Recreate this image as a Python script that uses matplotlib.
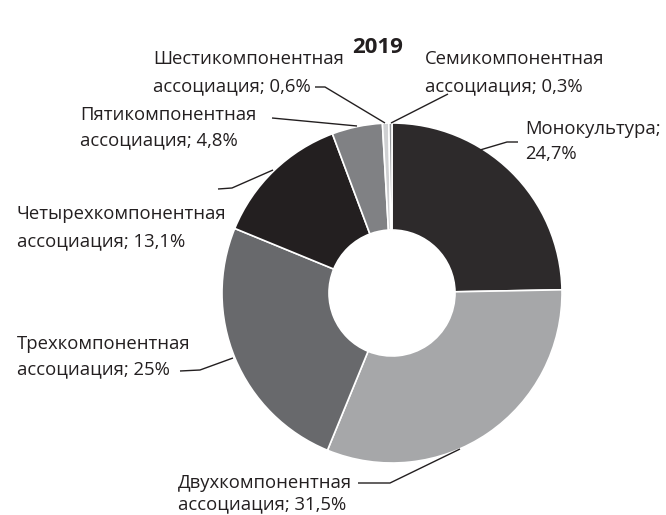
import matplotlib
matplotlib.use("Agg")
import matplotlib.pyplot as plt

# Structure of crop associations, 2019 (% of area)
categories = [
    "Монокультура",
    "Двухкомпонентная ассоциация",
    "Трехкомпонентная ассоциация",
    "Четырехкомпонентная ассоциация",
    "Пятикомпонентная ассоциация",
    "Шестикомпонентная ассоциация",
    "Семикомпонентная ассоциация",
]
values = [24.7, 31.5, 25.0, 13.1, 4.8, 0.6, 0.3]
value_labels = ["24,7%", "31,5%", "25%", "13,1%", "4,8%", "0,6%", "0,3%"]
title = "2019"

colors = ["#2d2a2b", "#a6a7a9", "#68696c", "#231f20", "#808184", "#cfd0d2", "#939598"]
text_color = "#231f20"

W, H = 666, 515
plt.rcParams["font.family"] = ["Open Sans", "DejaVu Sans"]

fig = plt.figure(figsize=(W / 100, H / 100), dpi=100)
ax = fig.add_axes([0, 0, 1, 1])


def Y(py):
    # pixel row (from top) -> axis coordinate (from bottom)
    return H - py


cx, cy, R, r_in = 392, 293, 170, 63
ax.pie(values, colors=colors, startangle=90, counterclock=False,
       center=(cx, Y(cy)), radius=R, frame=True,
       wedgeprops=dict(width=R - r_in, edgecolor="white", linewidth=1.2))

ax.set_xlim(0, W)
ax.set_ylim(0, H)
ax.set_aspect("equal")
ax.set_axis_off()

ax.text(378, Y(53), title, ha="center", va="baseline", fontsize=16,
        fontweight="bold", color=text_color)

# label text: first line, second line, left x, first baseline, second baseline
label_lines = [
    ("Монокультура;", value_labels[0], 525, 134, 159),
    ("Двухкомпонентная", "ассоциация; " + value_labels[1], 178, 488, 509),
    ("Трехкомпонентная", "ассоциация; " + value_labels[2], 17, 349, 374),
    ("Четырехкомпонентная", "ассоциация; " + value_labels[3], 17, 219, 246),
    ("Пятикомпонентная", "ассоциация; " + value_labels[4], 80, 120, 145),
    ("Шестикомпонентная", "ассоциация; " + value_labels[5], 153, 64, 91),
    ("Семикомпонентная", "ассоциация; " + value_labels[6], 425, 64, 91),
]
for l1, l2, x, b1, b2 in label_lines:
    ax.text(x, Y(b1), l1, ha="left", va="baseline", fontsize=13.3, color=text_color)
    ax.text(x, Y(b2), l2, ha="left", va="baseline", fontsize=13.3, color=text_color)

# leader lines (pixel coordinates)
leaders = [
    [(518, 142), (507, 142), (480, 150)],
    [(358, 483), (390, 483), (460, 449)],
    [(180, 371), (200, 370), (233, 358)],
    [(218, 189), (232, 188), (273, 170)],
    [(272, 118), (357, 126)],
    [(315, 87), (325, 87), (385, 123)],
    [(448, 94), (391, 123)],
]
for pts in leaders:
    xs = [p[0] for p in pts]
    ys = [Y(p[1]) for p in pts]
    ax.plot(xs, ys, color=text_color, linewidth=1.0, solid_capstyle="butt")

fig.savefig("out.png", dpi=100, facecolor="white")
